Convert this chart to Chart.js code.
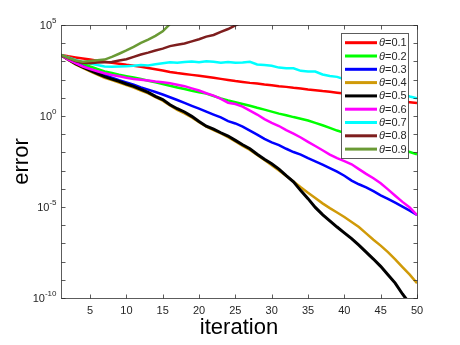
<!DOCTYPE html>
<html>
<head>
<meta charset="utf-8">
<script src="https://cdn.jsdelivr.net/npm/chart.js@4"></script>
<style>
  html, body { margin: 0; padding: 0; background: #fff; }
  #wrap { width: 460px; height: 345px; }
</style>
</head>
<body>
<div id="wrap"><canvas id="errChart" width="460" height="345"></canvas></div>
<script>
// iteration number on the x axis
const iterations = [1,2,3,4,5,6,7,8,9,10,11,12,13,14,15,16,17,18,19,20,21,22,23,24,25,
  26,27,28,29,30,31,32,33,34,35,36,37,38,39,40,41,42,43,44,45,46,47,48,49,50];

const thetas = ['0.1','0.2','0.3','0.4','0.5','0.6','0.7','0.8','0.9'];
const lineColors = ['#FF0000','#00FF00','#0000FF','#D09A08','#000000','#FF00FF','#00FFFF','#7E1E1E','#6A9A35'];

// log10(error), one array per theta
const err01 = [3.35,3.28,3.22,3.16,3.10,3.04,2.98,2.92,2.87,2.81,2.76,2.71,2.64,2.57,2.50,2.42,2.36,2.31,2.26,2.21,
  2.16,2.10,2.04,1.98,1.92,1.87,1.82,1.78,1.73,1.69,1.64,1.60,1.55,1.51,1.46,1.42,1.37,1.33,1.28,1.23,
  1.18,1.13,1.07,1.02,0.97,0.92,0.87,0.81,0.76,0.71];
const err02 = [3.35,3.18,3.02,2.87,2.72,2.58,2.45,2.36,2.27,2.19,2.11,2.03,1.94,1.85,1.76,1.66,1.57,1.48,1.39,1.31,
  1.23,1.10,0.97,0.86,0.76,0.66,0.56,0.45,0.35,0.24,0.13,0.04,-0.06,-0.15,-0.25,-0.38,-0.51,-0.65,-0.80,-0.93,
  -1.05,-1.17,-1.29,-1.41,-1.52,-1.64,-1.75,-1.87,-1.98,-2.10];
const err03 = [3.35,3.13,2.93,2.74,2.57,2.41,2.25,2.11,1.97,1.85,1.72,1.57,1.45,1.32,1.18,1.03,0.88,0.72,0.56,0.41,
  0.24,0.08,-0.08,-0.28,-0.41,-0.58,-0.80,-1.02,-1.26,-1.45,-1.60,-1.80,-1.98,-2.12,-2.32,-2.49,-2.67,-2.86,-3.06,-3.28,
  -3.55,-3.75,-3.92,-4.13,-4.36,-4.55,-4.76,-4.98,-5.20,-5.44];
const err04 = [3.35,3.08,2.84,2.64,2.45,2.28,2.10,1.97,1.84,1.70,1.56,1.40,1.24,1.04,0.84,0.58,0.34,0.14,-0.08,-0.34,
  -0.58,-0.78,-0.96,-1.16,-1.40,-1.64,-1.86,-2.14,-2.42,-2.70,-3.00,-3.30,-3.60,-3.92,-4.22,-4.50,-4.80,-5.06,-5.30,-5.55,
  -5.82,-6.10,-6.45,-6.80,-7.12,-7.48,-7.88,-8.30,-8.72,-9.19];
const err05 = [3.35,3.10,2.88,2.68,2.50,2.33,2.16,2.03,1.90,1.76,1.63,1.46,1.30,1.08,0.90,0.62,0.40,0.22,-0.02,-0.30,
  -0.56,-0.72,-0.92,-1.10,-1.34,-1.58,-1.80,-2.10,-2.38,-2.62,-2.92,-3.28,-3.62,-4.10,-4.54,-5.02,-5.42,-5.76,-6.10,-6.42,
  -6.74,-7.10,-7.48,-7.86,-8.26,-8.72,-9.18,-9.78,-10.3,-10.8];
const err06 = [3.35,3.10,2.90,2.72,2.58,2.46,2.35,2.25,2.18,2.10,2.03,1.99,1.95,1.90,1.86,1.80,1.72,1.64,1.52,1.40,
  1.25,1.12,0.94,0.73,0.66,0.52,0.30,0.08,-0.17,-0.38,-0.55,-0.78,-0.97,-1.18,-1.42,-1.65,-1.88,-2.12,-2.32,-2.48,
  -2.65,-2.92,-3.18,-3.42,-3.70,-4.03,-4.38,-4.72,-5.03,-5.44];
const err07 = [3.35,3.22,3.08,2.96,2.88,2.80,2.72,2.70,2.72,2.74,2.76,2.80,2.78,2.84,2.90,2.95,2.92,2.97,3.00,2.96,
  3.01,2.98,2.93,2.97,2.92,2.94,2.98,2.83,2.80,2.76,2.66,2.62,2.62,2.48,2.44,2.44,2.28,2.20,2.15,2.02,
  1.90,1.80,1.70,1.59,1.49,1.39,1.28,1.18,1.07,0.97];
const err08 = [3.35,3.18,3.02,2.92,2.90,2.94,2.96,2.97,3.05,3.12,3.25,3.38,3.48,3.60,3.70,3.84,3.92,3.98,4.10,4.22,
  4.36,4.45,4.62,4.78,4.98,5.15];
const err09 = [3.35,3.20,3.05,2.98,3.02,3.06,3.10,3.25,3.42,3.60,3.80,4.02,4.20,4.40,4.65,5.05];

const allErr = [err01, err02, err03, err04, err05, err06, err07, err08, err09];

const fontName = '"Liberation Sans", Arial, sans-serif';
const axisColor = '#262626';

// axes box, ticks, tick labels, axis titles and the legend, MATLAB style
const matlabAxes = {
  id: 'matlabAxes',
  afterDraw(chart) {
    const ctx = chart.ctx;
    const a = chart.chartArea;
    const xs = chart.scales.x, ys = chart.scales.y;
    const L = Math.round(a.left) + 0.5, R = Math.round(a.right) + 0.5;
    const T = Math.round(a.top) + 0.5, B = Math.round(a.bottom) + 0.5;
    ctx.save();
    ctx.strokeStyle = axisColor;
    ctx.lineWidth = 1;
    ctx.globalAlpha = 0.75;
    ctx.strokeRect(L, T, R - L, B - T);

    // y ticks every decade, both sides
    ctx.beginPath();
    for (let p = -10; p <= 5; p++) {
      const y = Math.round(ys.getPixelForValue(Math.pow(10, p))) + 0.5;
      ctx.moveTo(L, y); ctx.lineTo(L + 4, y);
      ctx.moveTo(R, y); ctx.lineTo(R - 4, y);
    }
    // x ticks
    for (let v = 5; v <= 50; v += 5) {
      const x = Math.round(xs.getPixelForValue(v)) + 0.5;
      ctx.moveTo(x, B); ctx.lineTo(x, B - 4);
      ctx.moveTo(x, T); ctx.lineTo(x, T + 4);
    }
    ctx.stroke();
    ctx.globalAlpha = 1;

    ctx.fillStyle = axisColor;
    ctx.font = '11px ' + fontName;
    ctx.textAlign = 'center';
    ctx.textBaseline = 'middle';
    for (let v = 5; v <= 50; v += 5) {
      ctx.fillText(String(v), xs.getPixelForValue(v), B + 12);
    }
    // y labels with superscript exponents
    [5, 0, -5, -10].forEach(p => {
      const y = ys.getPixelForValue(Math.pow(10, p));
      ctx.font = '8px ' + fontName;
      const ew = ctx.measureText(String(p)).width;
      ctx.font = '11px ' + fontName;
      const bw = ctx.measureText('10').width;
      const right = L - 5;
      ctx.textAlign = 'left';
      ctx.fillText('10', right - ew - bw, y + 1);
      ctx.font = '8px ' + fontName;
      ctx.fillText(String(p), right - ew, y - 4);
    });

    // axis titles
    ctx.font = '22px ' + fontName;
    ctx.fillStyle = '#000';
    ctx.textAlign = 'center';
    ctx.fillText('iteration', (a.left + a.right) / 2, 328);
    ctx.save();
    ctx.translate(22, (a.top + a.bottom) / 2);
    ctx.rotate(-Math.PI / 2);
    ctx.fillText('error', 0, 0);
    ctx.restore();

    // legend box
    const lx = 341.5, ly = 33.5, lw = 67, lh = 125;
    ctx.fillStyle = '#fff';
    ctx.fillRect(lx, ly, lw, lh);
    ctx.strokeStyle = '#262626';
    ctx.globalAlpha = 0.75;
    ctx.strokeRect(lx, ly, lw, lh);
    ctx.globalAlpha = 1;
    chart.data.datasets.forEach((ds, i) => {
      const ry = 42.7 + i * 13.3;
      ctx.strokeStyle = ds.borderColor;
      ctx.lineWidth = 3;
      ctx.beginPath();
      ctx.moveTo(345, ry); ctx.lineTo(377, ry);
      ctx.stroke();
      ctx.fillStyle = axisColor;
      ctx.textAlign = 'left';
      ctx.font = 'italic 11px ' + fontName;
      ctx.fillText('\u03B8', 379, ry + 0.5);
      const tw = ctx.measureText('\u03B8').width;
      ctx.font = '11px ' + fontName;
      ctx.fillText('=' + thetas[i], 379 + tw, ry + 0.5);
    });
    ctx.restore();
  }
};

const datasets = allErr.map((arr, i) => ({
  label: '\u03B8=' + thetas[i],
  data: arr.map((v, k) => ({ x: iterations[k], y: Math.pow(10, v) })),
  borderColor: lineColors[i],
  backgroundColor: lineColors[i],
  borderWidth: i === 4 ? 3 : 2.5,
  pointRadius: 0,
  tension: 0,
  clip: 0,
  order: 9 - i
}));

new Chart(document.getElementById('errChart'), {
  type: 'line',
  data: { datasets: datasets },
  options: {
    responsive: false,
    animation: false,
    layout: { padding: { left: 61, right: 43, top: 25, bottom: 47 } },
    plugins: {
      legend: { display: false },
      title: { display: false },
      tooltip: { enabled: false }
    },
    scales: {
      x: { type: 'linear', min: 1, max: 50, display: false },
      y: { type: 'logarithmic', min: 1e-10, max: 1e5, display: false }
    }
  },
  plugins: [matlabAxes]
});
</script>
</body>
</html>
